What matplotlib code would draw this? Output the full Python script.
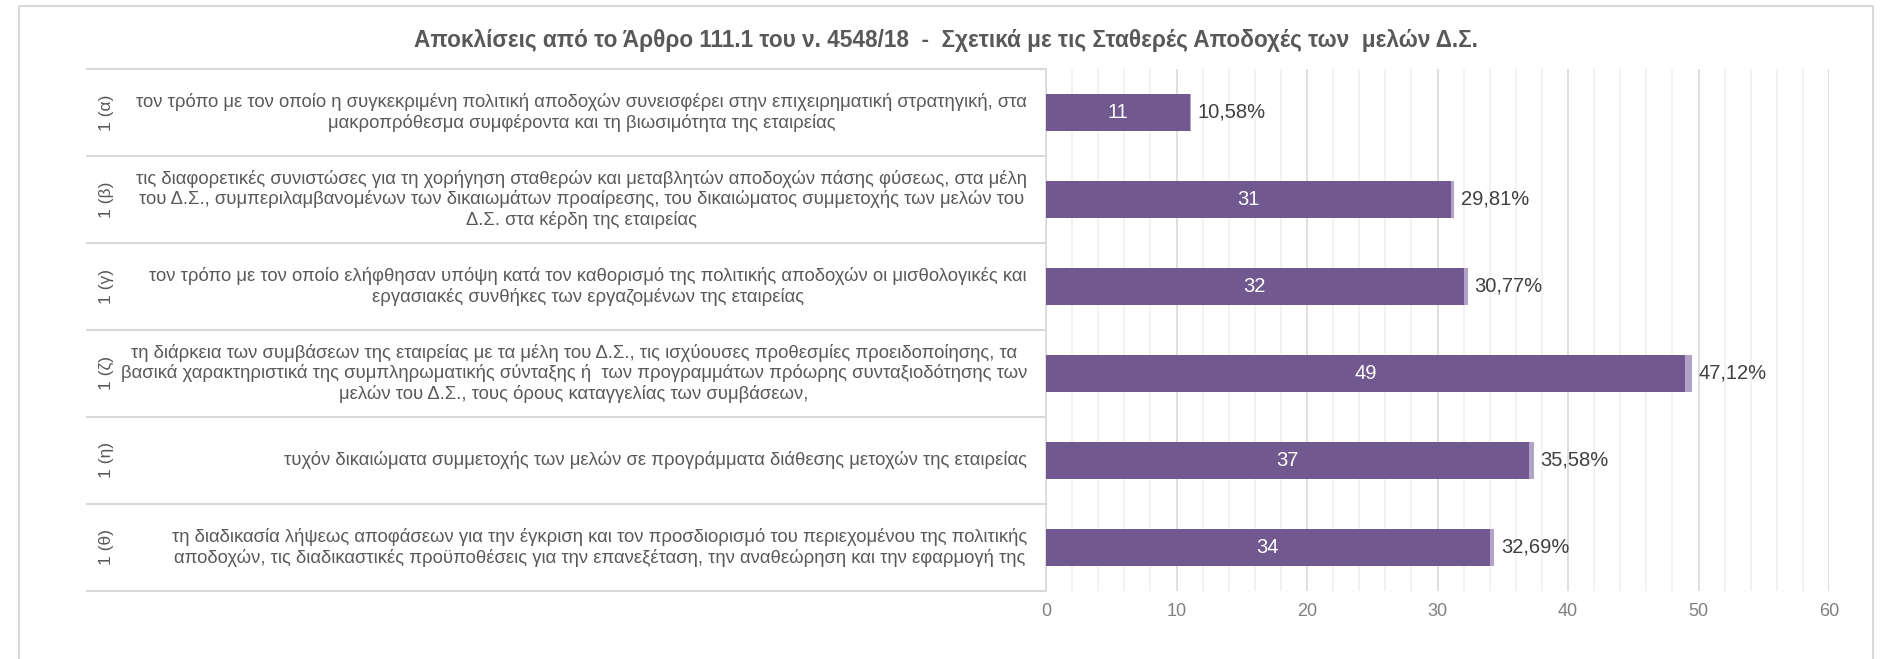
import matplotlib.pyplot as plt
from matplotlib.patches import Rectangle
from matplotlib.ticker import MultipleLocator
import matplotlib.transforms as mtransforms

plt.rcParams['font.family'] = ['Liberation Sans', 'DejaVu Sans']

TITLE = 'Αποκλίσεις από το Άρθρο 111.1 του ν. 4548/18  -  Σχετικά με τις Σταθερές Αποδοχές των  μελών Δ.Σ.'

codes = ['1 (α)', '1 (β)', '1 (γ)', '1 (ζ)', '1 (η)', '1 (θ)']
descriptions = [
    'τον τρόπο με τον οποίο η συγκεκριμένη πολιτική αποδοχών συνεισφέρει στην επιχειρηματική στρατηγική, στα\n'
    'μακροπρόθεσμα συμφέροντα και τη βιωσιμότητα της εταιρείας',
    'τις διαφορετικές συνιστώσες για τη χορήγηση σταθερών και μεταβλητών αποδοχών πάσης φύσεως, στα μέλη\n'
    'του Δ.Σ., συμπεριλαμβανομένων των δικαιωμάτων προαίρεσης, του δικαιώματος συμμετοχής των μελών του\n'
    'Δ.Σ. στα κέρδη της εταιρείας',
    'τον τρόπο με τον οποίο ελήφθησαν υπόψη κατά τον καθορισμό της πολιτικής αποδοχών οι μισθολογικές και\n'
    'εργασιακές συνθήκες των εργαζομένων της εταιρείας',
    'τη διάρκεια των συμβάσεων της εταιρείας με τα μέλη του Δ.Σ., τις ισχύουσες προθεσμίες προειδοποίησης, τα\n'
    'βασικά χαρακτηριστικά της συμπληρωματικής σύνταξης ή  των προγραμμάτων πρόωρης συνταξιοδότησης των\n'
    'μελών του Δ.Σ., τους όρους καταγγελίας των συμβάσεων,',
    'τυχόν δικαιώματα συμμετοχής των μελών σε προγράμματα διάθεσης μετοχών της εταιρείας',
    'τη διαδικασία λήψεως αποφάσεων για την έγκριση και τον προσδιορισμό του περιεχομένου της πολιτικής\n'
    'αποδοχών, τις διαδικαστικές προϋποθέσεις για την επανεξέταση, την αναθεώρηση και την εφαρμογή της',
]
counts = [11, 31, 32, 49, 37, 34]
shares = [10.58, 29.81, 30.77, 47.12, 35.58, 32.69]

BAR = '#71588f'
BAR_LIGHT = '#b3a2c7'
GRID = '#d9d9d9'
TEXT = '#595959'

fig = plt.figure(figsize=(18.8, 6.59), dpi=100)
ax = fig.add_axes([0.5564, 0.1032, 0.9729 - 0.5564, 0.8953 - 0.1032])

# outer chart border
fig.patches.append(Rectangle((19 / 1880, -0.05), (1873 - 19) / 1880, 1 - 6 / 659 + 0.05,
                             transform=fig.transFigure, fill=False,
                             edgecolor=GRID, linewidth=1.5))

y = list(range(len(counts)))
ax.barh(y, counts, height=0.43, color=BAR, zorder=3)
ax.barh(y, [s / 100 for s in shares], left=counts, height=0.43, color=BAR_LIGHT, zorder=3)

for yi, c, s in zip(y, counts, shares):
    ax.text(c / 2, yi, str(c), color='white', fontsize=14.5, ha='center', va='center', zorder=4)
    ax.annotate(f'{s:.2f}%'.replace('.', ','), (c + s / 100, yi), xytext=(5, 0),
                textcoords='offset points', color='#404040', fontsize=14.5,
                ha='left', va='center')

ax.set_xlim(0, 60)
ax.set_ylim(len(counts) - 0.5, -0.5)
ax.xaxis.set_major_locator(MultipleLocator(10))
ax.xaxis.set_minor_locator(MultipleLocator(2))
ax.grid(axis='x', which='major', color=GRID, linewidth=1.2, zorder=0)
ax.grid(axis='x', which='minor', color='#f0f0f0', linewidth=1.2, zorder=0)
ax.tick_params(axis='x', which='both', length=0, pad=9, labelsize=13, labelcolor='#808080')
ax.set_yticks([])
for side in ['top', 'right', 'bottom']:
    ax.spines[side].set_visible(False)
ax.spines['left'].set_color(GRID)
ax.spines['left'].set_linewidth(1.2)

# category table on the left
trans = mtransforms.blended_transform_factory(ax.transAxes, ax.transData)
table_left = (87 - 1046) / 783
for b in [i - 0.5 for i in range(len(counts) + 1)]:
    ax.plot([table_left, 0], [b, b], transform=trans, color=GRID, linewidth=1.5, clip_on=False)
for yi, code, desc in zip(y, codes, descriptions):
    ax.text((106 - 1046) / 783, yi, code, transform=trans, rotation=90, color=TEXT,
            fontsize=12.5, ha='center', va='center')
    ax.text(-19 / 783, yi, desc, transform=trans, color=TEXT, fontsize=13.3,
            ha='right', va='center', multialignment='center', linespacing=1.18)

fig.text(0.503, 1 - 40 / 659, TITLE, color=TEXT, fontsize=16.3, fontweight='bold',
         ha='center', va='center')

fig.savefig('out.png', dpi=100)
